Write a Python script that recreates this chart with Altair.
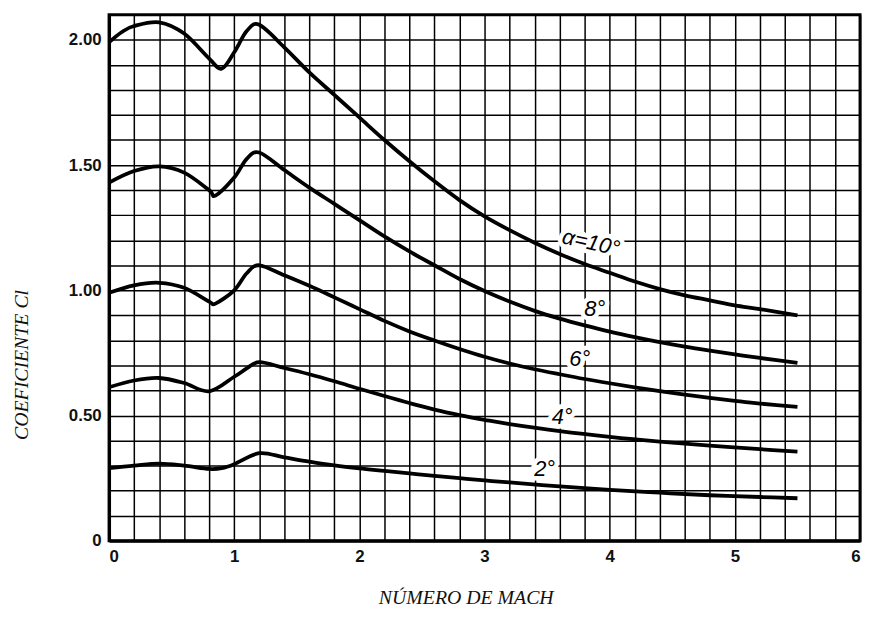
import altair as alt
import pandas as pd

# --- data ---
mach_10 = [0, 0.1, 0.2, 0.4, 0.6, 0.8, 0.9, 1.0, 1.1, 1.2, 1.4, 1.6, 1.8, 2.0, 2.2, 2.4, 2.6, 2.8, 3.0, 3.2, 3.4, 3.6, 3.8, 4.0, 4.2, 4.4, 4.6, 4.8, 5.0, 5.2, 5.5]
cl_10 = [1.99, 2.03, 2.055, 2.07, 2.025, 1.925, 1.885, 1.95, 2.035, 2.06, 1.97, 1.87, 1.78, 1.69, 1.60, 1.515, 1.435, 1.36, 1.295, 1.24, 1.19, 1.145, 1.105, 1.07, 1.035, 1.005, 0.98, 0.96, 0.94, 0.925, 0.90]

mach_8 = [0, 0.2, 0.4, 0.6, 0.8, 0.85, 1.0, 1.1, 1.2, 1.4, 1.6, 1.8, 2.0, 2.2, 2.4, 2.6, 2.8, 3.0, 3.2, 3.4, 3.6, 3.8, 4.0, 4.2, 4.4, 4.6, 4.8, 5.0, 5.2, 5.5]
cl_8 = [1.43, 1.476, 1.495, 1.47, 1.40, 1.378, 1.45, 1.525, 1.55, 1.48, 1.41, 1.345, 1.28, 1.215, 1.155, 1.10, 1.045, 0.997, 0.955, 0.918, 0.887, 0.86, 0.835, 0.813, 0.793, 0.775, 0.759, 0.744, 0.73, 0.71]

mach_6 = [0, 0.2, 0.4, 0.6, 0.8, 0.85, 1.0, 1.1, 1.2, 1.4, 1.6, 1.8, 2.0, 2.2, 2.4, 2.6, 2.8, 3.0, 3.2, 3.4, 3.6, 3.8, 4.0, 4.2, 4.4, 4.6, 4.8, 5.0, 5.2, 5.5]
cl_6 = [0.99, 1.02, 1.03, 1.01, 0.955, 0.947, 1.0, 1.068, 1.10, 1.06, 1.018, 0.972, 0.925, 0.878, 0.836, 0.80, 0.766, 0.735, 0.708, 0.685, 0.665, 0.646, 0.629, 0.613, 0.598, 0.584, 0.571, 0.559, 0.548, 0.535]

mach_4 = [0, 0.2, 0.4, 0.6, 0.8, 1.0, 1.1, 1.2, 1.4, 1.6, 1.8, 2.0, 2.2, 2.4, 2.6, 2.8, 3.0, 3.2, 3.6, 4.0, 4.4, 4.8, 5.2, 5.5]
cl_4 = [0.613, 0.64, 0.65, 0.63, 0.597, 0.655, 0.688, 0.713, 0.69, 0.665, 0.637, 0.607, 0.578, 0.55, 0.524, 0.502, 0.483, 0.466, 0.438, 0.415, 0.396, 0.38, 0.366, 0.356]

mach_2 = [0, 0.2, 0.4, 0.6, 0.8, 0.9, 1.0, 1.2, 1.4, 1.6, 1.8, 2.0, 2.2, 2.4, 2.6, 2.8, 3.0, 3.2, 3.6, 4.0, 4.4, 4.8, 5.2, 5.5]
cl_2 = [0.29, 0.30, 0.308, 0.30, 0.287, 0.29, 0.306, 0.35, 0.333, 0.316, 0.301, 0.289, 0.279, 0.269, 0.259, 0.25, 0.241, 0.233, 0.217, 0.203, 0.192, 0.182, 0.175, 0.17]

label_text = ["α=10°", "8°", "6°", "4°", "2°"]
label_mach = [3.85, 3.88, 3.76, 3.62, 3.48]
label_cl = [1.19, 0.925, 0.725, 0.495, 0.285]
label_angle = [13, 0, 0, 0, 0]

x_ticks = [round(i * 0.2, 1) for i in range(31)]
y_ticks = [round(i * 0.1, 1) for i in range(22)]

rows = []
for name, ms, cs in [("10", mach_10, cl_10), ("8", mach_8, cl_8), ("6", mach_6, cl_6),
                     ("4", mach_4, cl_4), ("2", mach_2, cl_2)]:
    for m, c in zip(ms, cs):
        rows.append({"serie": name, "mach": m, "cl": c})
df = pd.DataFrame(rows)

lab = pd.DataFrame({"text": label_text, "mach": label_mach, "cl": label_cl, "angle": label_angle})

x_enc = alt.X(
    "mach:Q",
    scale=alt.Scale(domain=[0, 6], nice=False, zero=False),
    axis=alt.Axis(
        values=x_ticks,
        labelExpr="abs(datum.value - round(datum.value)) < 0.01 ? format(datum.value, 'd') : ''",
        title="NÚMERO DE MACH",
        titleX=360,
        titleY=57,
        titleAlign="center",
        titleBaseline="middle",
    ),
)
y_enc = alt.Y(
    "cl:Q",
    scale=alt.Scale(domain=[0, 2.1], nice=False, zero=False),
    axis=alt.Axis(
        values=y_ticks,
        labelExpr="datum.value == 0 ? '0' : (abs(datum.value * 2 - round(datum.value * 2)) < 0.01 ? format(datum.value, '.2f') : '')",
        title="COEFICIENTE Cl",
        titleX=-88,
        titleY=353,
        titleAlign="center",
        titleBaseline="middle",
        titleAngle=270,
    ),
)

lines = alt.Chart(df).mark_line(color="black", strokeWidth=3.8, interpolate="cardinal").encode(
    x=x_enc, y=y_enc, detail="serie:N"
)

halo = alt.Chart(lab).mark_text(
    font="Liberation Sans", fontSize=22, fontStyle="italic", fill="white",
    stroke="white", strokeWidth=9, align="center", baseline="middle"
).encode(
    x=x_enc, y=y_enc, text="text:N", angle=alt.Angle("angle:Q", scale=None)
)

texts = alt.Chart(lab).mark_text(
    font="Liberation Sans", fontSize=22, fontStyle="italic", color="black",
    align="center", baseline="middle"
).encode(
    x=x_enc, y=y_enc, text="text:N", angle=alt.Angle("angle:Q", scale=None)
)

chart = alt.layer(halo, lines, texts).properties(
    width=758,
    height=531,
    padding={"left": 102, "top": 4, "right": 5, "bottom": 68},
    autosize="none",
    background="white",
).configure_view(
    stroke="black", strokeWidth=3
).configure_axis(
    domain=True,
    domainColor="black",
    domainWidth=3,
    grid=True,
    gridColor="black",
    gridWidth=1.5,
    gridOpacity=1,
    ticks=False,
    labelFont="Liberation Sans",
    labelFontSize=17,
    labelFontWeight="bold",
    labelColor="#111111",
    labelPadding=8,
    titleFont="Liberation Serif",
    titleFontStyle="italic",
    titleFontWeight="normal",
    titleFontSize=20,
    titleColor="#111111",
)

chart.save("out.html", embed_options={"renderer": "svg", "actions": False})
